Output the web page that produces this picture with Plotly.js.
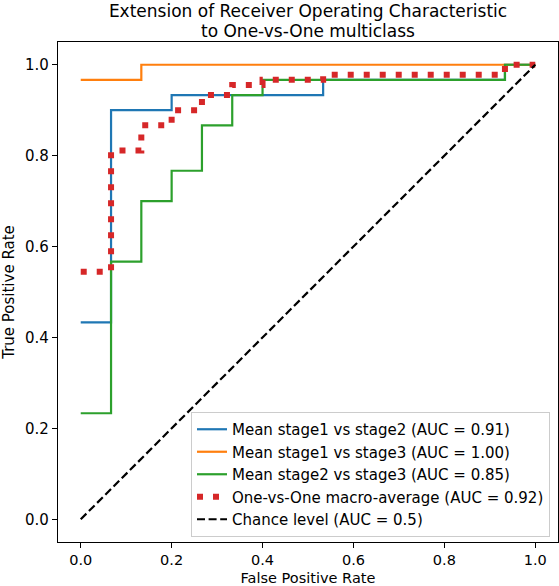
<!DOCTYPE html>
<html>
<head>
<meta charset="utf-8">
<script src="https://cdn.plot.ly/plotly-3.0.1.min.js"></script>
<style>html,body{margin:0;padding:0;background:#fff;}#chart{width:559px;height:586px;}</style>
</head>
<body>
<div id="chart"></div>
<script>
// Mean stage1 vs stage2 (step points, 'hv')
const fpr12 = [0, 0.0667, 0.2, 0.5333, 0.9333, 1];
const tpr12 = [0.4333, 0.9, 0.9333, 0.9667, 1, 1];
// Mean stage1 vs stage3
const fpr13 = [0, 0.1333, 1];
const tpr13 = [0.9667, 1, 1];
// Mean stage2 vs stage3
const fpr23 = [0, 0.0667, 0.1333, 0.2, 0.2667, 0.3333, 0.4, 0.9333, 1];
const tpr23 = [0.2333, 0.5667, 0.7, 0.7667, 0.8667, 0.9333, 0.9667, 1, 1];
// One-vs-One macro-average
const fprMacro = [0, 0.0667, 0.1333, 0.2, 0.2667, 0.3333, 0.4, 0.5333, 0.9333, 1];
const tprMacro = [0.5444, 0.8111, 0.8667, 0.9, 0.9333, 0.9556, 0.9667, 0.9778, 1, 1];
// Chance level
const fprChance = [0, 1];
const tprChance = [0, 1];

const labels = [
  "Mean stage1 vs stage2 (AUC = 0.91)",
  "Mean stage1 vs stage3 (AUC = 1.00)",
  "Mean stage2 vs stage3 (AUC = 0.85)",
  "One-vs-One macro-average (AUC = 0.92)",
  "Chance level (AUC = 0.5)"
];
const titleLines = ["Extension of Receiver Operating Characteristic", "to One-vs-One multiclass"];
const tickVals = [0, 0.2, 0.4, 0.6, 0.8, 1.0];
const tickText = ["0.0", "0.2", "0.4", "0.6", "0.8", "1.0"];

const FONT = "DejaVu Sans, Liberation Sans, sans-serif";

const traces = [
  {x: fpr12, y: tpr12, name: labels[0], mode: "lines", line: {color: "#1f77b4", width: 2.2, shape: "hv"}},
  {x: fpr13, y: tpr13, name: labels[1], mode: "lines", line: {color: "#ff7f0e", width: 2.2, shape: "hv"}},
  {x: fpr23, y: tpr23, name: labels[2], mode: "lines", line: {color: "#2ca02c", width: 2.2, shape: "hv"}},
  {x: fprMacro, y: tprMacro, name: labels[3], mode: "lines", line: {color: "#d62728", width: 6, shape: "hv", dash: "6px,10px"}},
  {x: fprChance, y: tprChance, name: labels[4], mode: "lines", line: {color: "#000000", width: 2.2, dash: "8px,3.6px"}}
];

const axisCommon = {
  range: [-0.05, 1.05],
  tickvals: tickVals,
  ticktext: tickText,
  ticks: "outside",
  ticklen: 5,
  tickwidth: 1.2,
  tickcolor: "#000",
  showline: true,
  mirror: true,
  linecolor: "#000",
  linewidth: 1.2,
  showgrid: false,
  zeroline: false,
  tickfont: {family: FONT, size: 15, color: "#000"},
  fixedrange: true
};

const layout = {
  width: 559,
  height: 586,
  margin: {l: 58, r: 1, t: 42, b: 44},
  paper_bgcolor: "#fff",
  plot_bgcolor: "#fff",
  font: {family: FONT, size: 15, color: "#000"},
  title: {
    text: titleLines[0],
    font: {family: FONT, size: 17, color: "#000"},
    x: 0.5, xref: "paper", xanchor: "center",
    y: 1 - 11 / 586, yref: "container", yanchor: "middle"
  },
  annotations: [{
    text: titleLines[1],
    font: {family: FONT, size: 17, color: "#000"},
    xref: "paper", yref: "paper", x: 0.5, y: 1,
    xanchor: "center", yanchor: "middle", yshift: 11,
    showarrow: false
  }],
  xaxis: Object.assign({}, axisCommon, {
    tickfont: {family: FONT, size: 14.5, color: "#000"},
    ticklabelstandoff: -1,
    title: {text: "False Positive Rate", font: {family: FONT, size: 14.5, color: "#000"}, standoff: 8}
  }),
  yaxis: Object.assign({}, axisCommon, {
    title: {text: "True Positive Rate", font: {family: FONT, size: 15, color: "#000"}, standoff: 6}
  }),
  showlegend: true,
  legend: {
    x: 0.984, xanchor: "right",
    y: 0.01, yanchor: "bottom",
    bgcolor: "rgba(255,255,255,0.8)",
    bordercolor: "#cccccc",
    borderwidth: 1,
    font: {family: FONT, size: 15, color: "#000"},
    itemwidth: 30,
    traceorder: "normal"
  }
};

Plotly.newPlot("chart", traces, layout, {displayModeBar: false, staticPlot: true});
</script>
</body>
</html>
